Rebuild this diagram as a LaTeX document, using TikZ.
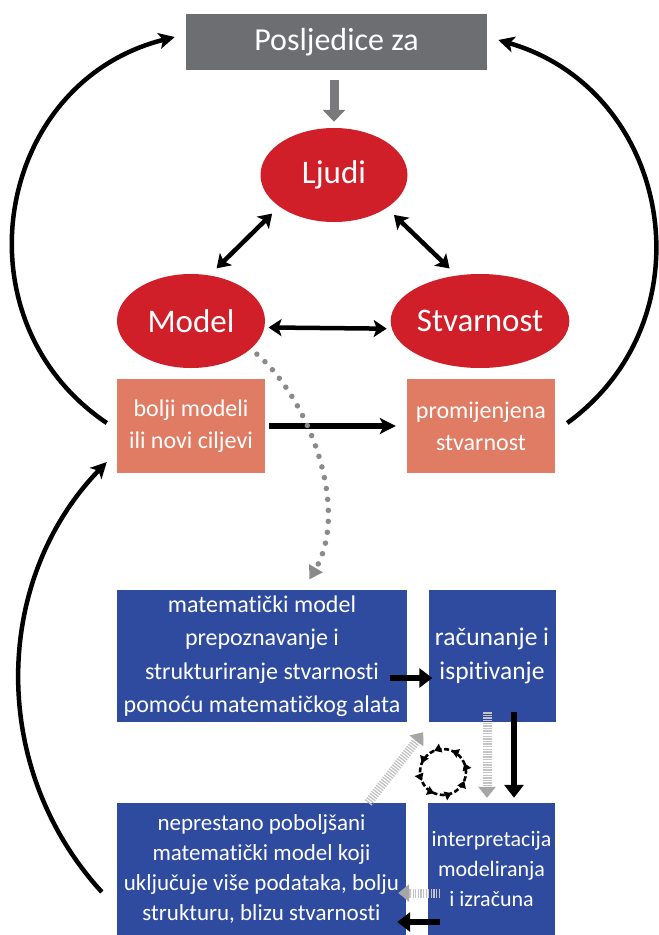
\documentclass[tikz,border=0pt]{standalone}
\usepackage{fontspec}
\setmainfont{Carlito}[Ligatures=NoCommon]
\usetikzlibrary{arrows.meta,shapes.geometric,decorations.markings}
\definecolor{boxgray}{HTML}{6D6E71}
\definecolor{myred}{HTML}{D01F29}
\definecolor{salmon}{HTML}{E07B64}
\definecolor{myblue}{HTML}{2F4B9F}
\definecolor{arrowgray}{HTML}{7A7A7C}
\definecolor{dotgray}{HTML}{8A8A8A}
\definecolor{stripegray}{HTML}{C4C4C4}
\definecolor{headgray}{HTML}{A6A6A6}
\tikzset{
  gbox/.style={rectangle, fill=boxgray, text=white, minimum width=301pt, minimum height=56pt, inner sep=0pt, font=\fontsize{32}{38}\selectfont},
  ell/.style={ellipse, fill=myred, text=white, minimum width=147pt, minimum height=94pt, inner sep=0pt, font=\fontsize{33}{40}\selectfont},
  sbox/.style={rectangle, fill=salmon, text=white, minimum width=148pt, minimum height=94pt, inner sep=0pt, align=center, font=\fontsize{24}{32}\selectfont},
  bbox/.style={rectangle, fill=myblue, text=white, minimum height=132pt, inner sep=0pt, align=center},
  blk/.style={draw=black, line width=4.5pt, -{Stealth[length=16pt,width=16pt,inset=4pt]}},
  dbl/.style={draw=black, line width=4.5pt, {Stealth[length=13pt,width=17pt,inset=3pt]}-{Stealth[length=13pt,width=17pt,inset=3pt]}},
  fat/.style={draw=black, line width=6pt, -{Triangle[length=13pt,width=19pt]}},
  garrow/.style={draw=arrowgray, line width=9pt, -{Triangle[length=12pt,width=22pt]}},
  stripe/.style={draw=stripegray, line width=9pt, dash pattern=on 1.3pt off 1.3pt, -{Triangle[length=11pt,width=17pt,color=headgray]}},
  dotline/.style={draw=dotgray, line width=5.5pt, line cap=round, dash pattern=on 0pt off 11pt, -{Triangle[length=13pt,width=15pt,color=dotgray]}},
}
\begin{document}
\begin{tikzpicture}[x=1pt,y=-1pt]
\useasboundingbox[fill=white] (0,0) rectangle (659,935);

\node[gbox] (G) at (336.5,42) {Posljedice za};
\node[ell] (L) at (334,175) {Ljudi};
\node[ell, minimum width=148pt] (M) at (191,321) {Model};
\node[ell, minimum width=150pt] (S) at (480,321) {Stvarnost};
\node[sbox] (B) at (191,426) {bolji modeli\\ili novi ciljevi};
\node[sbox] (P) at (481,426) {promijenjena\\stvarnost};

\node[bbox, minimum width=290pt, font=\fontsize{24}{33.5}\selectfont] (B1) at (262,656)
  {matematički model\\prepoznavanje i\\strukturiranje stvarnosti\\pomoću matematičkog alata};
\node[bbox, minimum width=127pt, font=\fontsize{25.5}{34}\selectfont] (B2) at (492,656)
  {računanje i\\ispitivanje};
\node[bbox, minimum width=289pt, font=\fontsize{23}{30}\selectfont] (B3) at (261.5,869)
  {neprestano poboljšani\\matematički model koji\\uključuje više podataka, bolju\\strukturu, blizu stvarnosti};
\node[bbox, minimum width=127pt, font=\fontsize{22}{30}\selectfont] (B4) at (491.5,869)
  {interpretacija\\modeliranja\\i izračuna};

% top gray arrow
\draw[garrow, shorten <=10pt, shorten >=6pt] (G.south -| L) -- (L.north);

% triangle of double arrows
\draw[dbl, shorten <=10pt, shorten >=10pt] (L.210) -- (M.68);
\draw[dbl, shorten <=10pt, shorten >=10pt] (L.328) -- (S.117);
\draw[dbl, shorten <=4pt, shorten >=5pt] (M.-5) -- (S.185);

% salmon arrow
\draw[blk, line width=5.5pt, shorten <=4pt, shorten >=11pt] (B.east) -- (P.west);

% big arcs
\draw[blk] ([shift={(-10,-3)}]B.west) to[out=146, in=194, looseness=1.21] ([shift={(-11,-5)}]G.west);
\draw[blk] ([shift={(12,-3)}]P.east) to[out=36, in=-16, looseness=1.18] ([shift={(11,-2)}]G.east);
\draw[blk] ([shift={(-15,23)}]B3.west) to[out=132.5, in=226, looseness=0.985] ([shift={(-10,36)}]B.west);

% dotted curve
\draw[dotline, shorten <=8pt, shorten >=12pt] (M.-25) .. controls (310,400) and (350,510) .. (B1.58);

% blue area arrows
\draw[fat] ([shift={(-17,22)}]B1.east) -- ([shift={(4,22)}]B2.west);
\draw[stripe] ([shift={(-5,-10)}]B2.south) -- ([shift={(-4.5,-5)}]B4.north);
\draw[fat] ([shift={(22,-10)}]B2.south) -- ([shift={(22.5,-5)}]B4.north);
\draw[stripe] ([shift={(-38,0)}]B3.north east) -- ([shift={(16,10)}]B1.south east);
\draw[stripe] ([shift={(12,24)}]B4.west) -- ([shift={(-8,24)}]B3.east);
\draw[fat] ([shift={(12,53)}]B4.west) -- ([shift={(-9,53)}]B3.east);

% cycle symbol
\draw[line width=2.6pt, dash pattern=on 5pt off 2.5pt,
  decoration={markings, mark=between positions 0.0625 and 1 step 0.125 with {\arrow{Triangle[length=7pt,width=9pt]}}},
  postaction={decorate}] (443,772) circle[radius=23pt];
\end{tikzpicture}
\end{document}
